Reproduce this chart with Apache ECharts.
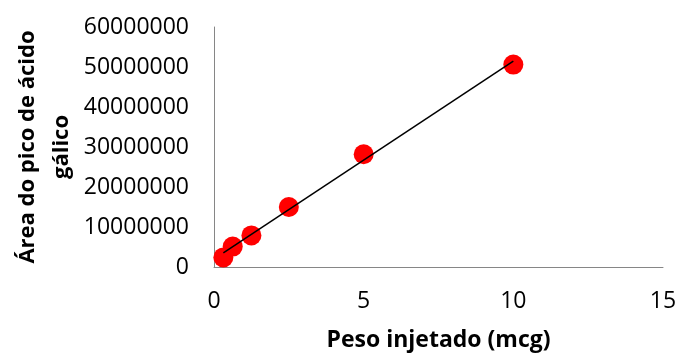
<!DOCTYPE html>
<html>
<head>
<meta charset="utf-8">
<script src="https://cdn.jsdelivr.net/npm/echarts@6/dist/echarts.min.js"></script>
<style>html,body{margin:0;padding:0;background:#fff}#c{width:680px;height:353px}</style>
</head>
<body>
<div id="c"></div>
<script>
var pesoInjetado = [0.3125, 0.625, 1.25, 2.5, 5, 10];
var areaPico = [2400000, 5100000, 7900000, 15000000, 28200000, 50600000];
var xTicks = [0, 5, 10, 15];
var yTicks = [0, 10000000, 20000000, 30000000, 40000000, 50000000, 60000000];

// linear trend line (least squares) from the data
var n = pesoInjetado.length, mx = 0, my = 0;
for (var i = 0; i < n; i++) { mx += pesoInjetado[i]; my += areaPico[i]; }
mx /= n; my /= n;
var sxx = 0, sxy = 0;
for (var i = 0; i < n; i++) { sxx += (pesoInjetado[i]-mx)*(pesoInjetado[i]-mx); sxy += (pesoInjetado[i]-mx)*(areaPico[i]-my); }
var slope = sxy / sxx, icpt = my - slope * mx;
var xmin = Math.min.apply(null, pesoInjetado), xmax = Math.max.apply(null, pesoInjetado);
var trend = [[xmin, icpt + slope*xmin], [xmax, icpt + slope*xmax]];

var chart = echarts.init(document.getElementById('c'));
var font = '"Open Sans", sans-serif';
chart.setOption({
  animation: false,
  grid: { left: 214, right: 17, top: 27, bottom: 86, containLabel: false, outerBoundsMode: 'none' },
  xAxis: {
    type: 'value', min: xTicks[0], max: xTicks[xTicks.length-1], interval: 5,
    name: 'Peso injetado (mcg)', nameLocation: 'middle', nameGap: 62, nameMoveOverlap: false,
    nameTextStyle: { fontFamily: font, fontWeight: 'bold', fontSize: 23, color: '#000' },
    axisLine: { show: true, onZero: false, lineStyle: { color: '#868686', width: 1 } },
    axisTick: { show: false },
    splitLine: { show: false },
    axisLabel: { fontFamily: font, fontSize: 23, color: '#000', margin: 23, formatter: function(v){ return String(v); } }
  },
  yAxis: {
    type: 'value', min: yTicks[0], max: yTicks[yTicks.length-1], interval: 10000000,
    name: 'Área do pico de ácido\ngálico', nameLocation: 'middle', nameGap: 135, nameMoveOverlap: false,
    nameTextStyle: { fontFamily: font, fontWeight: 'bold', fontSize: 22, color: '#000', lineHeight: 34, align: 'center' },
    axisLine: { show: true, lineStyle: { color: '#868686', width: 1 } },
    axisTick: { show: false },
    splitLine: { show: false },
    axisLabel: { fontFamily: font, fontSize: 23, color: '#000', margin: 25, formatter: function(v){ return String(v); } }
  },
  series: [
    { type: 'scatter', data: pesoInjetado.map(function(x, i){ return [x, areaPico[i]]; }),
      symbol: 'circle', symbolSize: 20, itemStyle: { color: '#FF0000', opacity: 1 }, z: 2 },
    { type: 'line', data: trend, symbol: 'none', lineStyle: { color: '#000', width: 1.5 }, z: 3 }
  ]
});
</script>
</body>
</html>
